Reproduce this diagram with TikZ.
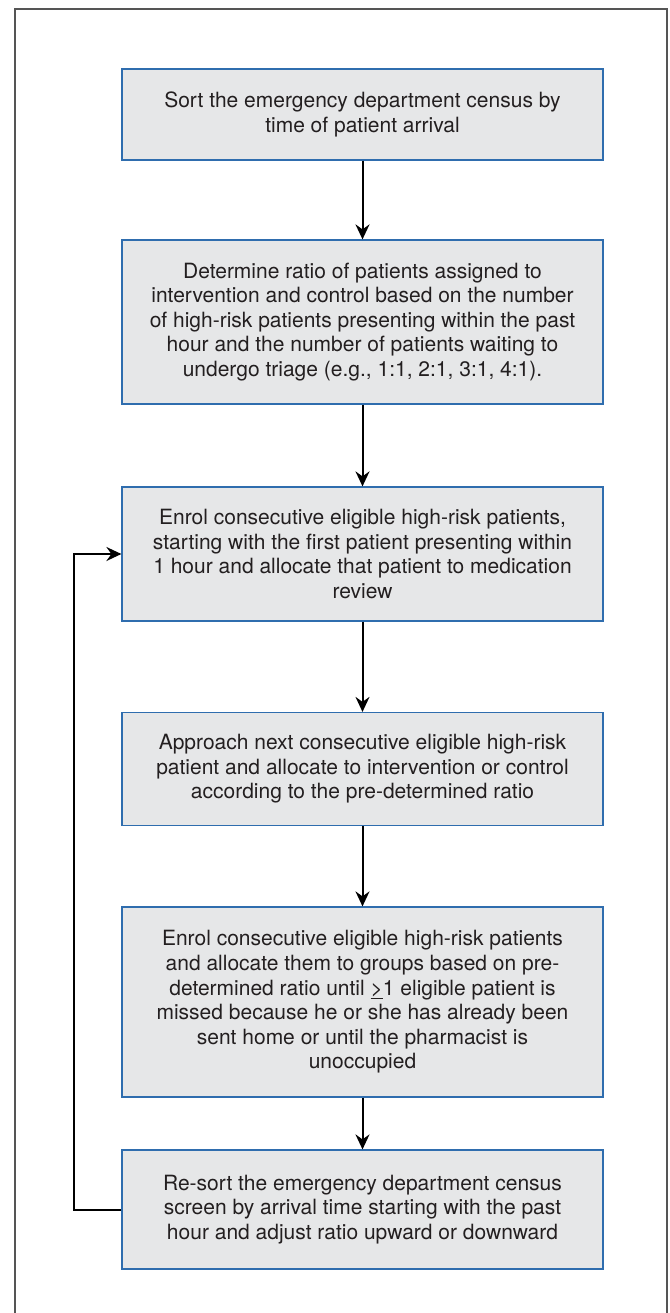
\documentclass[tikz,border=0pt]{standalone}
\usepackage{fontspec}
\setmainfont{TeX Gyre Heros}
\usetikzlibrary{arrows.meta}
\definecolor{boxfill}{HTML}{E6E7E8}
\definecolor{boxline}{HTML}{2F6DAE}
\definecolor{txt}{HTML}{231F20}
\definecolor{framec}{HTML}{555555}
\tikzset{
  stepbox/.style={draw=boxline, line width=1.2pt, fill=boxfill, text=txt,
    minimum width=481pt, align=center, inner sep=0pt,
    font=\fontsize{21}{24.6}\selectfont},
  flow/.style={line width=2pt, -{Stealth[length=15pt,width=14pt,inset=5pt]}},
}
\begin{document}
\begin{tikzpicture}[x=1pt,y=-1pt]
\useasboundingbox (0,0) rectangle (669,1313);
\draw[framec, line width=1.3pt] (15,1313) -- (15,9) -- (667,9) -- (667,1313);
\node[stepbox, minimum height=91pt] (b1) at (362.5,114.5)
  {Sort the emergency department census by\\ time of patient arrival};
\node[stepbox, minimum height=164pt] (b2) at (362.5,322)
  {Determine ratio of patients assigned to\\ intervention and control based on the number\\ of high-risk patients presenting within the past\\ hour and the number of patients waiting to\\ undergo triage (e.g., 1:1, 2:1, 3:1, 4:1).};
\node[stepbox, minimum height=134pt] (b3) at (362.5,554)
  {Enrol consecutive eligible high-risk patients,\\ starting with the first patient presenting within\\ 1 hour and allocate that patient to medication\\ review};
\node[stepbox, minimum height=113pt] (b4) at (362.5,769)
  {Approach next consecutive eligible high-risk\\ patient and allocate to intervention or control\\ according to the pre-determined ratio};
\node[stepbox, minimum height=190pt] (b5) at (362.5,1002)
  {Enrol consecutive eligible high-risk patients\\ and allocate them to groups based on pre-\\ determined ratio until \underline{>}1 eligible patient is\\ missed because he or she has already been\\ sent home or until the pharmacist is\\ unoccupied};
\node[stepbox, minimum height=119pt] (b6) at (362.5,1209.5)
  {Re-sort the emergency department census\\ screen by arrival time starting with the past\\ hour and adjust ratio upward or downward};
\coordinate (lb) at (74,1209.5);
\coordinate (lt) at (74,554);
\draw[flow] (b1) -- (b2);
\draw[flow] (b2) -- (b3);
\draw[flow] (b3) -- (b4);
\draw[flow] (b4) -- (b5);
\draw[flow] (b5) -- (b6);
\draw[flow] (b6.west) -- (lb) -- (lt) -- (b3.west);
\end{tikzpicture}
\end{document}
